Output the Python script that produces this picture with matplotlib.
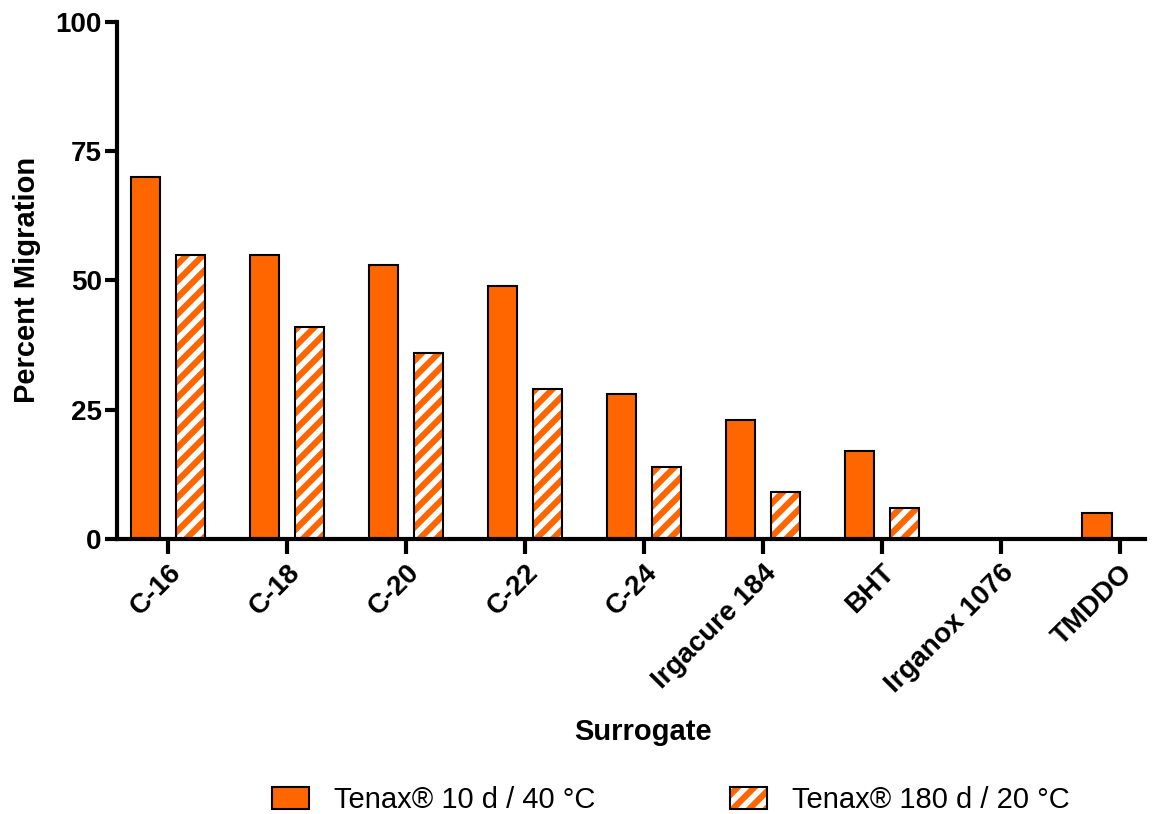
import numpy as np
import matplotlib
matplotlib.use('Agg')
import matplotlib.pyplot as plt
from matplotlib.patches import Patch

plt.rcParams['font.family'] = ['Liberation Sans', 'DejaVu Sans']
plt.rcParams['hatch.linewidth'] = 4.0

# Data
surrogates = ['C-16', 'C-18', 'C-20', 'C-22', 'C-24', 'Irgacure 184', 'BHT', 'Irganox 1076', 'TMDDO']
tenax_10d_40c = [70, 55, 53, 49, 28, 23, 17, 0, 5]
tenax_180d_20c = [55, 41, 36, 29, 14, 9, 6, 0, 0]

orange = '#FF6600'

fig = plt.figure(figsize=(11.61, 8.14), dpi=100)
ax = fig.add_axes([0.1008, 0.338, 0.885, 0.635])

x = np.arange(len(surrogates))
w = 0.245
off = 0.19

# solid bars
ax.bar(x - off, tenax_10d_40c, width=w, color=orange, edgecolor='black', linewidth=1.5, zorder=2)
# hatched bars: white hatch first, black outline on top
ax.bar(x + off, tenax_180d_20c, width=w, color=orange, edgecolor='white', hatch='//', linewidth=0, zorder=2)
ax.bar(x + off, tenax_180d_20c, width=w, fill=False, edgecolor='black', linewidth=1.5, zorder=3)

ax.set_xlim(-0.43, 8.21)
ax.set_ylim(0, 100)
ax.set_yticks([0, 25, 50, 75, 100])
ax.set_xticks(x)
ax.set_xticklabels(surrogates, rotation=45, ha='right', rotation_mode='anchor')

for s in ['top', 'right']:
    ax.spines[s].set_visible(False)
for s in ['left', 'bottom']:
    ax.spines[s].set_linewidth(3)
ax.tick_params(axis='y', length=9, width=3, labelsize=20, pad=2)
ax.tick_params(axis='x', length=11, width=3, labelsize=20, pad=4)
for lbl in ax.get_xticklabels() + ax.get_yticklabels():
    lbl.set_fontweight('bold')

ax.set_ylabel('Percent Migration', fontsize=21, fontweight='bold', labelpad=10)
ax.set_xlabel('Surrogate', fontsize=21, fontweight='bold')
ax.xaxis.set_label_coords(0.512, -0.347)

h1 = Patch(facecolor=orange, edgecolor='black', linewidth=1.5)
h2 = (Patch(facecolor=orange, edgecolor='white', hatch='//', linewidth=0),
      Patch(fill=False, edgecolor='black', linewidth=1.5))
fig.legend([h1, h2], ['Tenax® 10 d / 40 °C', 'Tenax® 180 d / 20 °C'],
           loc='center', bbox_to_anchor=(0.578, 0.017), ncol=2, frameon=False,
           fontsize=21, handlelength=1.27, handleheight=0.78, handletextpad=0.86,
           columnspacing=4.6)

fig.savefig('out.png', dpi=100)
